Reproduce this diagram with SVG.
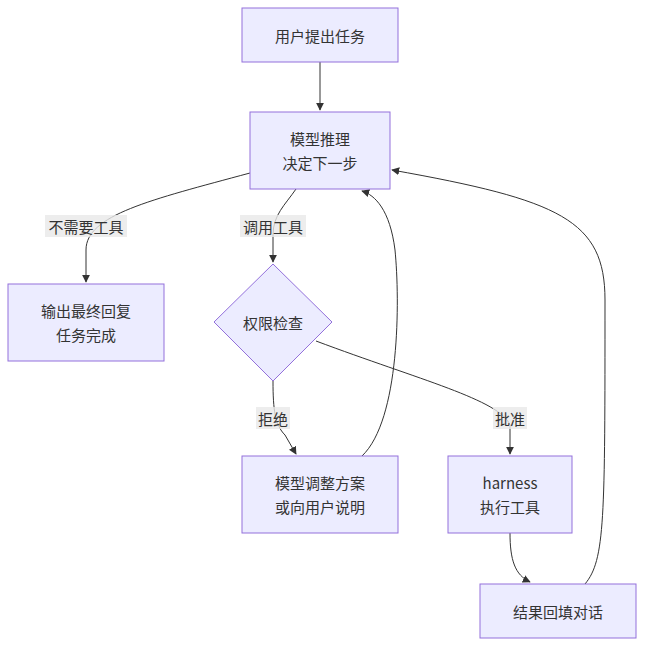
<svg xmlns="http://www.w3.org/2000/svg" width="645" height="646" viewBox="0 0 645 646">
<style>
.n{fill:#ECECFF;stroke:#9370DB;stroke-width:1}
.t{font-family:"Noto Sans CJK SC","Liberation Sans",sans-serif;font-size:15px;fill:#333;text-anchor:middle;dominant-baseline:central}
.e{fill:none;stroke:#333;stroke-width:1}
.lb{fill:#e8e8e8;opacity:0.8}
</style>
<defs><marker id="ar" viewBox="0 0 10 10" refX="9" refY="5" markerWidth="8" markerHeight="8" orient="auto"><path d="M0,0L10,5L0,10z" fill="#333"/></marker></defs>
<rect width="645" height="646" fill="#fff"/>
<g id="edges">
<path class="e" d="M320,62V110" marker-end="url(#ar)"/>
<path class="e" d="M250,173C150,200 86,215 86,250V282" marker-end="url(#ar)"/>
<path class="e" d="M296,189C285,205 273,215 273,235V262" marker-end="url(#ar)"/>
<path class="e" d="M273,381C273,410 275,425 285,435L296,454" marker-end="url(#ar)"/>
<path class="e" d="M316,341C420,380 500,400 510,425V454" marker-end="url(#ar)"/>
<path class="e" d="M362,456C400,420 400,300 395,250C390,210 375,195 362,191" marker-end="url(#ar)"/>
<path class="e" d="M510,533C510,560 515,575 530,582" marker-end="url(#ar)"/>
<path class="e" d="M585,584C605,560 605,520 605,300C605,220 560,200 392,170" marker-end="url(#ar)"/>
<rect class="lb" x="45" y="215" width="82" height="22"/><text class="t" x="86" y="226">不需要工具</text>
<rect class="lb" x="240" y="215" width="66" height="22"/><text class="t" x="273" y="226">调用工具</text>
<rect class="lb" x="256" y="407" width="34" height="22"/><text class="t" x="273" y="418">拒绝</text>
<rect class="lb" x="493" y="407" width="34" height="22"/><text class="t" x="510" y="418">批准</text>
</g>
<g id="A"><rect class="n" x="242" y="8" width="156" height="54"/><text class="t" x="320" y="35">用户提出任务</text></g>
<g id="B"><rect class="n" x="250" y="112" width="140" height="77"/><text class="t" x="320" y="138">模型推理</text><text class="t" x="320" y="162">决定下一步</text></g>
<g id="C"><rect class="n" x="8" y="284" width="156" height="77"/><text class="t" x="86" y="310">输出最终回复</text><text class="t" x="86" y="334">任务完成</text></g>
<g id="D"><polygon class="n" points="273,264 332,322 273,381 214,322"/><text class="t" x="273" y="322">权限检查</text></g>
<g id="E"><rect class="n" x="242" y="456" width="156" height="77"/><text class="t" x="320" y="482">模型调整方案</text><text class="t" x="320" y="506">或向用户说明</text></g>
<g id="F"><rect class="n" x="448" y="456" width="124" height="77"/><text class="t" x="510" y="482">harness</text><text class="t" x="510" y="506">执行工具</text></g>
<g id="G"><rect class="n" x="480" y="584" width="156" height="54"/><text class="t" x="558" y="611">结果回填对话</text></g>
</svg>
